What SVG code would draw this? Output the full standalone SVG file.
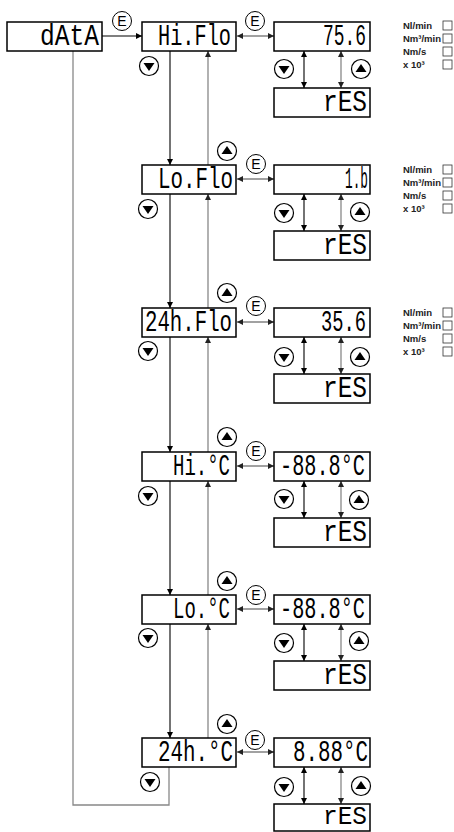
<svg xmlns="http://www.w3.org/2000/svg" width="454" height="832" viewBox="0 0 454 832">
<defs>
<marker id="ah" viewBox="0 0 6 6" refX="6" refY="3" markerWidth="6" markerHeight="6" markerUnits="userSpaceOnUse" orient="auto-start-reverse"><path d="M0,0 L6,3 L0,6 z" fill="#000"/></marker>
<marker id="ahg" viewBox="0 0 6 6" refX="6" refY="3" markerWidth="6" markerHeight="6" markerUnits="userSpaceOnUse" orient="auto-start-reverse"><path d="M0,0 L6,3 L0,6 z" fill="#222"/></marker>
<g id="btnDown"><circle r="9.5" fill="#fff" stroke="#000" stroke-width="1.2"/><path d="M-5.5,-3 L5.5,-3 L0,5 z" fill="#000"/></g>
<g id="btnUp"><circle r="9.5" fill="#fff" stroke="#000" stroke-width="1.2"/><path d="M-5.5,3 L5.5,3 L0,-5 z" fill="#000"/></g>
<g id="btnE"><circle r="9.5" fill="#fff" stroke="#000" stroke-width="1"/><text y="5" class="e">E</text></g>
</defs>
<style>
.box{fill:#fff;stroke:#000;stroke-width:1.5}
.seg{font-family:"Liberation Mono","DejaVu Sans Mono",monospace;font-size:30px;fill:#000}
.e{font-family:"Liberation Sans",Arial,sans-serif;font-size:14px;text-anchor:middle;fill:#000}
.unit{font-family:"Liberation Sans",Arial,sans-serif;font-size:9.5px;font-weight:bold;fill:#222}
.ub{fill:#fff;stroke:#333;stroke-width:0.8}
.blk{stroke:#000;stroke-width:1.1;fill:none}
.gry{stroke:#888;stroke-width:1.3;fill:none}
.dk{stroke:#444;stroke-width:1.1;fill:none}
</style>
<rect width="454" height="832" fill="#fff"/>

<g id="connectors">
<line x1="102" y1="36" x2="142" y2="36" class="blk" marker-end="url(#ah)"/>
<path d="M73,51 V805 H169 V767" class="gry"/>
<line x1="170" y1="51" x2="170" y2="165" class="blk" marker-end="url(#ah)"/>
<line x1="208" y1="165" x2="208" y2="51" class="gry" marker-end="url(#ahg)"/>
<line x1="170" y1="194" x2="170" y2="308" class="blk" marker-end="url(#ah)"/>
<line x1="208" y1="308" x2="208" y2="194" class="gry" marker-end="url(#ahg)"/>
<line x1="170" y1="337" x2="170" y2="452" class="blk" marker-end="url(#ah)"/>
<line x1="208" y1="452" x2="208" y2="337" class="gry" marker-end="url(#ahg)"/>
<line x1="170" y1="481" x2="170" y2="595" class="blk" marker-end="url(#ah)"/>
<line x1="208" y1="595" x2="208" y2="481" class="gry" marker-end="url(#ahg)"/>
<line x1="170" y1="624" x2="170" y2="738" class="blk" marker-end="url(#ah)"/>
<line x1="208" y1="738" x2="208" y2="624" class="gry" marker-end="url(#ahg)"/>

<line x1="237" y1="36" x2="274" y2="36" class="dk" marker-start="url(#ahg)" marker-end="url(#ahg)"/>
<line x1="237" y1="179" x2="274" y2="179" class="dk" marker-start="url(#ahg)" marker-end="url(#ahg)"/>
<line x1="237" y1="322" x2="274" y2="322" class="dk" marker-start="url(#ahg)" marker-end="url(#ahg)"/>
<line x1="237" y1="466" x2="274" y2="466" class="dk" marker-start="url(#ahg)" marker-end="url(#ahg)"/>
<line x1="237" y1="609" x2="274" y2="609" class="dk" marker-start="url(#ahg)" marker-end="url(#ahg)"/>
<line x1="237" y1="752" x2="274" y2="752" class="dk" marker-start="url(#ahg)" marker-end="url(#ahg)"/>

<line x1="304" y1="51" x2="304" y2="88" class="blk" marker-start="url(#ah)" marker-end="url(#ah)"/>
<line x1="341" y1="51" x2="341" y2="88" class="gry" marker-start="url(#ahg)" marker-end="url(#ahg)"/>
<line x1="304" y1="194" x2="304" y2="231" class="blk" marker-start="url(#ah)" marker-end="url(#ah)"/>
<line x1="341" y1="194" x2="341" y2="231" class="gry" marker-start="url(#ahg)" marker-end="url(#ahg)"/>
<line x1="304" y1="337" x2="304" y2="374" class="blk" marker-start="url(#ah)" marker-end="url(#ah)"/>
<line x1="341" y1="337" x2="341" y2="374" class="gry" marker-start="url(#ahg)" marker-end="url(#ahg)"/>
<line x1="304" y1="481" x2="304" y2="518" class="blk" marker-start="url(#ah)" marker-end="url(#ah)"/>
<line x1="341" y1="481" x2="341" y2="518" class="gry" marker-start="url(#ahg)" marker-end="url(#ahg)"/>
<line x1="304" y1="624" x2="304" y2="661" class="blk" marker-start="url(#ah)" marker-end="url(#ah)"/>
<line x1="341" y1="624" x2="341" y2="661" class="gry" marker-start="url(#ahg)" marker-end="url(#ahg)"/>
<line x1="304" y1="767" x2="304" y2="804" class="blk" marker-start="url(#ah)" marker-end="url(#ah)"/>
<line x1="341" y1="767" x2="341" y2="804" class="gry" marker-start="url(#ahg)" marker-end="url(#ahg)"/>
</g>

<g id="data"><rect class="box" x="7" y="22" width="95" height="29"/><text class="seg" x="40" y="45" textLength="59" lengthAdjust="spacingAndGlyphs">dAtA</text></g>

<g id="buttons">
<use href="#btnE" x="122" y="21"/>
<use href="#btnE" x="255" y="21"/>
<use href="#btnE" x="256" y="164"/>
<use href="#btnE" x="256" y="306"/>
<use href="#btnE" x="256" y="451"/>
<use href="#btnE" x="256" y="595"/>
<use href="#btnE" x="255" y="740"/>
<use href="#btnDown" x="149" y="66"/>
<use href="#btnDown" x="148" y="209"/>
<use href="#btnDown" x="148" y="351"/>
<use href="#btnDown" x="148" y="496"/>
<use href="#btnDown" x="148" y="638"/>
<use href="#btnDown" x="150" y="782"/>
<use href="#btnUp" x="227" y="151"/>
<use href="#btnUp" x="227" y="293"/>
<use href="#btnUp" x="227" y="437"/>
<use href="#btnUp" x="227" y="581"/>
<use href="#btnUp" x="227" y="724"/>
<use href="#btnDown" x="284" y="69"/>
<use href="#btnUp" x="361" y="69"/>
<use href="#btnDown" x="284" y="213"/>
<use href="#btnUp" x="360" y="212"/>
<use href="#btnDown" x="284" y="357"/>
<use href="#btnUp" x="360" y="357"/>
<use href="#btnDown" x="284" y="499"/>
<use href="#btnUp" x="359" y="500"/>
<use href="#btnDown" x="284" y="643"/>
<use href="#btnUp" x="359" y="641"/>
<use href="#btnDown" x="284" y="787"/>
<use href="#btnUp" x="361" y="786"/>
</g>

<g id="hiflo"><rect class="box" x="142" y="22" width="94" height="29"/><text class="seg" x="158" y="45" textLength="73" lengthAdjust="spacingAndGlyphs">Hi.Flo</text></g>
<g id="hiflo-val"><rect class="box" x="274" y="22" width="96" height="29"/><text class="seg" x="323" y="45" textLength="43" lengthAdjust="spacingAndGlyphs">75.6</text></g>
<g id="hiflo-res"><rect class="box" x="274" y="88" width="96" height="29"/><text class="seg" x="323" y="111" textLength="44" lengthAdjust="spacingAndGlyphs">rES</text></g>

<g id="loflo"><rect class="box" x="142" y="165" width="94" height="29"/><text class="seg" x="158" y="188" textLength="75" lengthAdjust="spacingAndGlyphs">Lo.Flo</text></g>
<g id="loflo-val"><rect class="box" x="274" y="165" width="96" height="29"/><text class="seg" x="345" y="188" textLength="23" lengthAdjust="spacingAndGlyphs">1.b</text></g>
<g id="loflo-res"><rect class="box" x="274" y="231" width="96" height="29"/><text class="seg" x="323" y="254" textLength="44" lengthAdjust="spacingAndGlyphs">rES</text></g>

<g id="h24flo"><rect class="box" x="142" y="308" width="94" height="29"/><text class="seg" x="145" y="331" textLength="87" lengthAdjust="spacingAndGlyphs">24h.Flo</text></g>
<g id="h24flo-val"><rect class="box" x="274" y="308" width="96" height="29"/><text class="seg" x="321" y="331" textLength="45" lengthAdjust="spacingAndGlyphs">35.6</text></g>
<g id="h24flo-res"><rect class="box" x="274" y="374" width="96" height="29"/><text class="seg" x="323" y="397" textLength="44" lengthAdjust="spacingAndGlyphs">rES</text></g>

<g id="hitemp"><rect class="box" x="142" y="452" width="94" height="29"/><text class="seg" x="173" y="475" textLength="57" lengthAdjust="spacingAndGlyphs">Hi.°C</text></g>
<g id="hitemp-val"><rect class="box" x="274" y="452" width="96" height="29"/><text class="seg" x="280" y="475" textLength="85" lengthAdjust="spacingAndGlyphs">-88.8°C</text></g>
<g id="hitemp-res"><rect class="box" x="274" y="518" width="96" height="29"/><text class="seg" x="323" y="541" textLength="44" lengthAdjust="spacingAndGlyphs">rES</text></g>

<g id="lotemp"><rect class="box" x="142" y="595" width="94" height="29"/><text class="seg" x="173" y="618" textLength="57" lengthAdjust="spacingAndGlyphs">Lo.°C</text></g>
<g id="lotemp-val"><rect class="box" x="274" y="595" width="96" height="29"/><text class="seg" x="280" y="618" textLength="85" lengthAdjust="spacingAndGlyphs">-88.8°C</text></g>
<g id="lotemp-res"><rect class="box" x="274" y="661" width="96" height="29"/><text class="seg" x="323" y="684" textLength="44" lengthAdjust="spacingAndGlyphs">rES</text></g>

<g id="h24temp"><rect class="box" x="142" y="738" width="94" height="29"/><text class="seg" x="158" y="761" textLength="75" lengthAdjust="spacingAndGlyphs">24h.°C</text></g>
<g id="h24temp-val"><rect class="box" x="274" y="738" width="96" height="29"/><text class="seg" x="293" y="761" textLength="75" lengthAdjust="spacingAndGlyphs">8.88°C</text></g>
<g id="h24temp-res"><rect class="box" x="274" y="804" width="96" height="27"/><text class="seg" x="323" y="824" style="font-size:26px" textLength="44" lengthAdjust="spacingAndGlyphs">rES</text></g>

<g id="units1">
<text class="unit" x="403" y="29">Nl/min</text><text class="unit" x="403" y="42">Nm³/min</text><text class="unit" x="403" y="55">Nm/s</text><text class="unit" x="403" y="68">x 10³</text>
<rect class="ub" x="443" y="21" width="9" height="9"/><rect class="ub" x="443" y="34" width="9" height="9"/><rect class="ub" x="443" y="47" width="9" height="9"/><rect class="ub" x="443" y="60" width="9" height="9"/>
</g>
<g id="units2">
<text class="unit" x="403" y="173">Nl/min</text><text class="unit" x="403" y="186">Nm³/min</text><text class="unit" x="403" y="199">Nm/s</text><text class="unit" x="403" y="212">x 10³</text>
<rect class="ub" x="443" y="165" width="9" height="9"/><rect class="ub" x="443" y="178" width="9" height="9"/><rect class="ub" x="443" y="191" width="9" height="9"/><rect class="ub" x="443" y="204" width="9" height="9"/>
</g>
<g id="units3">
<text class="unit" x="403" y="316">Nl/min</text><text class="unit" x="403" y="329">Nm³/min</text><text class="unit" x="403" y="342">Nm/s</text><text class="unit" x="403" y="355">x 10³</text>
<rect class="ub" x="443" y="308" width="9" height="9"/><rect class="ub" x="443" y="321" width="9" height="9"/><rect class="ub" x="443" y="334" width="9" height="9"/><rect class="ub" x="443" y="347" width="9" height="9"/>
</g>
</svg>
